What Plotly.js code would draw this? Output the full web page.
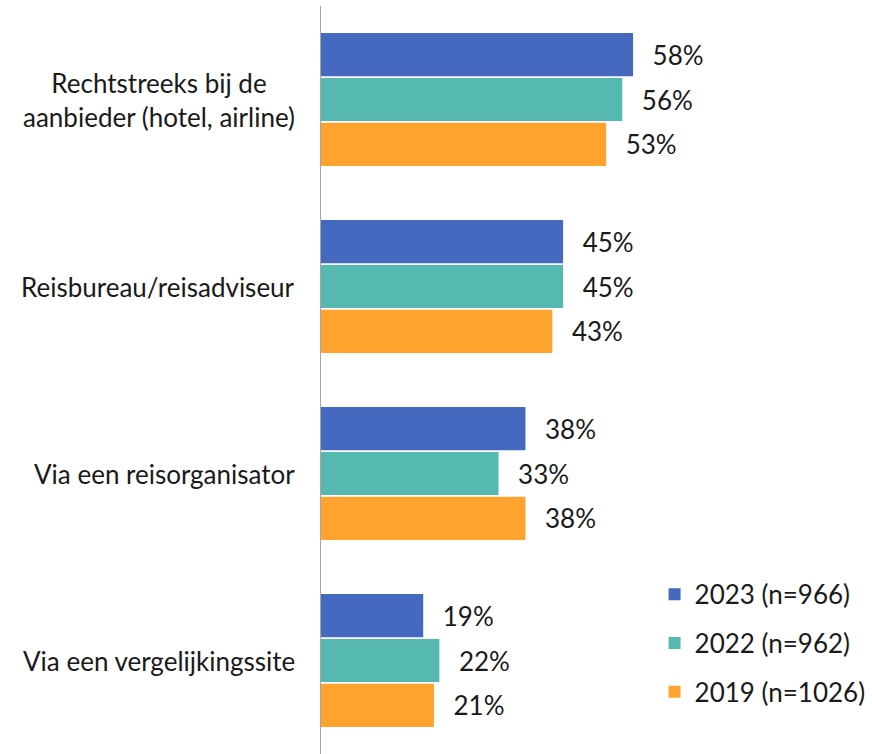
<!DOCTYPE html>
<html><head><meta charset="utf-8">
<script src="https://cdn.plot.ly/plotly-3.0.1.min.js"></script>
<style>html,body{margin:0;padding:0;background:#fff}#chart{width:872px;height:754px}</style>
</head><body><div id="chart"></div>
<script>
const categories = ["Rechtstreeks bij de<br>aanbieder (hotel, airline)", "Reisbureau/reisadviseur", "Via een reisorganisator", "Via een vergelijkingssite"];
const seriesNames = ["2023 (n=966)", "2022 (n=962)", "2019 (n=1026)"];
const values2023 = [58, 45, 38, 19];
const values2022 = [56, 45, 33, 22];
const values2019 = [53, 43, 38, 21];
const colors = ["#4469BF", "#56B9B1", "#FFA32F"];

const FONT = "Lato, 'Open Sans', sans-serif";
const FS = 26;
const allValues = [values2023, values2022, values2019];
const traces = allValues.map((vals, i) => ({
  type: "bar",
  orientation: "h",
  name: seriesNames[i],
  y: categories,
  x: vals,
  marker: {color: colors[i]},
  text: vals.map(v => "\u00a0\u00a0\u2009" + v + "%"),
  textposition: "outside",
  textfont: {family: FONT, size: FS, color: "#1a1a1a"},
  cliponaxis: false,
  legendgroup: "g" + i,
  hoverinfo: "skip"
}));

const annotations = categories.map(c => ({
  xref: "paper", yref: "y", x: 0, y: c, xanchor: "right", yanchor: "middle",
  xshift: -24, text: c, showarrow: false, align: "center",
  font: {family: FONT, size: FS, color: "#1a1a1a"}
}));

const layout = {
  width: 872, height: 754,
  margin: {l: 321, r: 13, t: 6, b: 0},
  paper_bgcolor: "#fff", plot_bgcolor: "#fff",
  barmode: "group", bargap: 0.28, bargroupgap: 0.04,
  showlegend: true,
  legend: {x: 0.62, y: 0.245, xanchor: "left", yanchor: "top", tracegroupgap: 12,
           font: {family: FONT, size: FS, color: "#1a1a1a"}, bgcolor: "rgba(0,0,0,0)"},
  xaxis: {range: [0, 100], showgrid: false, zeroline: false, showline: false, showticklabels: false, ticks: "", fixedrange: true},
  yaxis: {autorange: "reversed", showgrid: false, zeroline: false, showline: true, linecolor: "#a6a6a6", linewidth: 1.5,
          showticklabels: false, ticks: "", fixedrange: true},
  annotations: annotations,
  font: {family: FONT}
};
Plotly.newPlot("chart", traces, layout, {displayModeBar: false, staticPlot: true});
</script></body></html>
